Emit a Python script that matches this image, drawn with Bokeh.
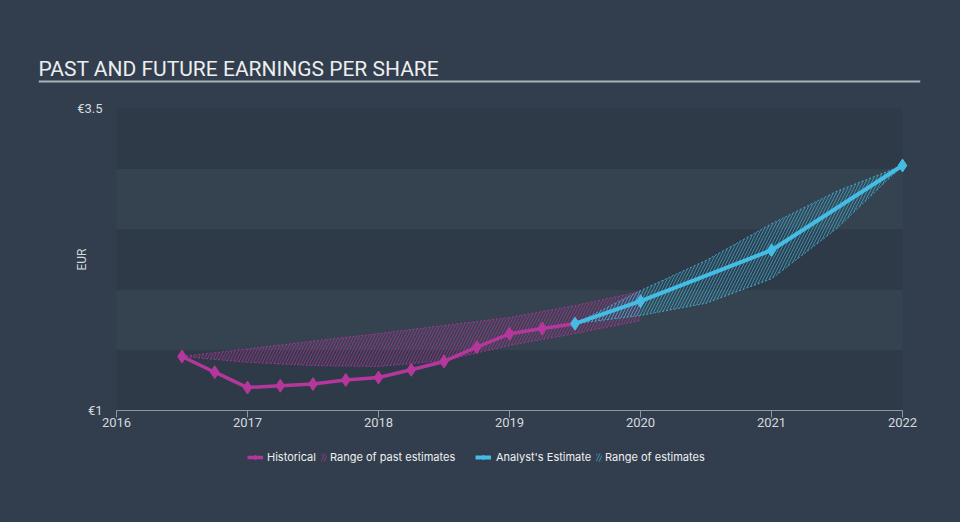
from bokeh.plotting import figure
from bokeh.models import FixedTicker, Label, BoxAnnotation, Legend, LegendItem, Range1d, LinearAxis
from bokeh.embed import file_html
from bokeh.resources import INLINE

# ---------------- data ----------------
title_text = "PAST AND FUTURE EARNINGS PER SHARE"
y_axis_label = "EUR"
x_ticks = [2016, 2017, 2018, 2019, 2020, 2021, 2022]
x_tick_labels = ["2016", "2017", "2018", "2019", "2020", "2021", "2022"]
y_ticks = [1.0, 3.5]
y_tick_labels = ["€1", "€3.5"]
band_bottoms = [1.0, 1.5, 2.0, 2.5, 3.0]
band_tops = [1.5, 2.0, 2.5, 3.0, 3.5]
band_shade = ["dark", "light", "dark", "light", "dark"]

hist_years = [2016.5, 2016.75, 2017.0, 2017.25, 2017.5, 2017.75, 2018.0,
              2018.25, 2018.5, 2018.75, 2019.0, 2019.25, 2019.5]
hist_eps = [1.447, 1.317, 1.19, 1.205, 1.219, 1.253, 1.273,
            1.337, 1.406, 1.524, 1.635, 1.678, 1.719]

est_years = [2019.5, 2020.0, 2021.0, 2022.0]
est_eps = [1.719, 1.905, 2.327, 3.028]

past_range_years = [2016.5, 2017.0, 2017.5, 2018.0, 2018.5, 2019.0, 2019.5, 2020.0]
past_range_low = [1.447, 1.40, 1.372, 1.364, 1.414, 1.538, 1.637, 1.745]
past_range_high = [1.447, 1.51, 1.574, 1.637, 1.704, 1.770, 1.869, 1.985]

fut_range_years = [2019.5, 2020.0, 2020.5, 2021.0, 2021.5, 2022.0]
fut_range_low = [1.719, 1.786, 1.888, 2.09, 2.508, 3.028]
fut_range_high = [1.719, 1.993, 2.242, 2.546, 2.816, 3.028]

legend_labels = ["Historical", "Range of past estimates", "Analyst's Estimate", "Range of estimates"]

# ---------------- style / layout ----------------
MAG = "#b5379c"
CYAN = "#45bce4"
BG = "#323e4d"
SHADES = {"dark": "#2e3a48", "light": "#35424f"}
TXT = "#d5d9de"
AXIS_C = "#8d98a5"

W, H = 960, 522
FRAME_L, FRAME_R, FRAME_T, FRAME_B = 38, 920, 50, 480     # canvas pixels of the frame
AX_L, AX_R, AX_T, AX_B = 116, 902, 108, 410                # pixels of first/last x tick, top/bottom y tick
px_x = (AX_R - AX_L) / (x_ticks[-1] - x_ticks[0])
px_y = (AX_B - AX_T) / (y_ticks[-1] - y_ticks[0])
x_range = Range1d(x_ticks[0] - (AX_L - FRAME_L) / px_x, x_ticks[-1] + (FRAME_R - AX_R) / px_x)
y_range = Range1d(y_ticks[0] - (FRAME_B - AX_B) / px_y, y_ticks[-1] + (AX_T - FRAME_T) / px_y)

p = figure(width=W, height=H, output_backend="svg", toolbar_location=None, title=None,
           x_range=x_range, y_range=y_range, tools="",
           min_border_left=FRAME_L, min_border_right=W - FRAME_R,
           min_border_top=FRAME_T, min_border_bottom=H - FRAME_B,
           outline_line_color=BG, outline_line_alpha=0, outline_line_width=0)
p.background_fill_color = BG
p.border_fill_color = BG
p.styles = {"background-color": BG}
p.xgrid.grid_line_color = None
p.ygrid.grid_line_color = None

for b, t, s in zip(band_bottoms, band_tops, band_shade):
    p.add_layout(BoxAnnotation(left=x_ticks[0], right=x_ticks[-1], bottom=b, top=t,
                               fill_color=SHADES[s], fill_alpha=1, line_color=None,
                               line_alpha=0, level="underlay"))

# x axis, drawn at y = first y tick
xa = p.xaxis[0]
xa.fixed_location = y_ticks[0]
xa.bounds = (x_ticks[0], x_ticks[-1])
xa.ticker = FixedTicker(ticks=x_ticks)
xa.major_label_overrides = {k: v for k, v in zip(x_ticks, x_tick_labels)}
xa.axis_line_color = AXIS_C
xa.major_tick_line_color = AXIS_C
xa.major_tick_out = 7
xa.major_tick_in = 0
xa.minor_tick_line_color = None
xa.major_label_text_color = TXT
xa.major_label_text_font = "Roboto"
xa.major_label_text_font_size = "13px"
xa.major_label_standoff = 0

# y axis: labels placed to the right of the axis position; its line hides the frame seam
ya = p.yaxis[0]
ya.ticker = FixedTicker(ticks=y_ticks)
ya.major_label_overrides = {k: v for k, v in zip(y_ticks, y_tick_labels)}
ya.axis_line_color = BG
ya.axis_line_width = 3
ya.major_tick_line_color = None
ya.minor_tick_line_color = None
ya.major_tick_out = 0
ya.major_tick_in = 0
ya.major_label_standoff = -(102 - FRAME_L)
ya.major_label_text_color = TXT
ya.major_label_text_font = "Roboto"
ya.major_label_text_font_size = "13px"

# plain edge axes (no ticks, no labels) in background colour to hide frame seams
for side in ("above", "right", "below"):
    ax = LinearAxis(ticker=FixedTicker(ticks=[]), axis_line_color=BG, axis_line_width=3,
                    major_tick_line_color=None, minor_tick_line_color=None,
                    major_tick_out=0, major_tick_in=0, major_label_text_alpha=0,
                    major_label_text_font_size="1px")
    p.add_layout(ax, side)

p.add_layout(Label(x=x_ticks[0], y=(y_ticks[0] + y_ticks[-1]) / 2, x_offset=-35,
                   text=y_axis_label, angle=90, angle_units="deg",
                   text_font="Roboto", text_font_size="12px", text_color=TXT,
                   text_align="center", text_baseline="middle"))

# title + underline
p.add_layout(Label(x=x_ticks[0], y=y_ticks[-1], x_offset=FRAME_L - AX_L, y_offset=AX_T - 68,
                   text=title_text, text_font="Roboto", text_font_size="21px",
                   text_color="#eceef0", text_baseline="middle", text_align="left"))
p.add_layout(BoxAnnotation(bottom=y_ticks[-1] + (AX_T - 82) / px_y,
                           top=y_ticks[-1] + (AX_T - 80) / px_y,
                           fill_color="#aab1b9", fill_alpha=1, line_color=None, line_alpha=0))

# ranges (hatched)
r_pr = p.varea(x=past_range_years, y1=past_range_low, y2=past_range_high,
               fill_color=MAG, fill_alpha=0.06, hatch_pattern="/", hatch_color=MAG,
               hatch_alpha=0.6, hatch_scale=6, hatch_weight=1)
for arr in (past_range_low, past_range_high):
    p.line(past_range_years, arr, line_color=MAG, line_alpha=0.8, line_width=1, line_dash="2 2")

r_fr = p.varea(x=fut_range_years, y1=fut_range_low, y2=fut_range_high,
               fill_color=CYAN, fill_alpha=0.06, hatch_pattern="/", hatch_color=CYAN,
               hatch_alpha=0.6, hatch_scale=6, hatch_weight=1)
for arr in (fut_range_low, fut_range_high):
    p.line(fut_range_years, arr, line_color=CYAN, line_alpha=0.8, line_width=1, line_dash="2 2")

# lines
r_hl = p.line(hist_years, hist_eps, line_color=MAG, line_width=3.5)
r_hs = p.scatter(hist_years, hist_eps, marker="diamond", size=13, fill_color=MAG, line_color=MAG)
r_el = p.line(est_years, est_eps, line_color=CYAN, line_width=4)
r_es = p.scatter(est_years, est_eps, marker="diamond", size=13, fill_color=CYAN, line_color=CYAN)

# legends: one per item, positioned in frame pixels (bottom-left corner)
LEG_BOTTOM = FRAME_B - 467
specs = [
    (legend_labels[0], [r_hl, r_hs], 247, 16, 12, 4),
    (legend_labels[1], [r_pr], 320, 7, 10, 3),
    (legend_labels[2], [r_el, r_es], 475, 16, 12, 5),
    (legend_labels[3], [r_fr], 595, 7, 10, 3),
]
for lab, rends, gx, gw, gh, st in specs:
    p.add_layout(Legend(items=[LegendItem(label=lab, renderers=rends)],
                        location=(gx - FRAME_L, LEG_BOTTOM), orientation="horizontal",
                        glyph_width=gw, glyph_height=gh, label_standoff=st,
                        padding=0, margin=0, spacing=0,
                        border_line_color=None, background_fill_alpha=0,
                        label_text_font="Inter", label_text_font_size="11px",
                        label_text_color="#eef0f2", label_height=20))

open("out.html", "w").write(file_html(p, INLINE))
